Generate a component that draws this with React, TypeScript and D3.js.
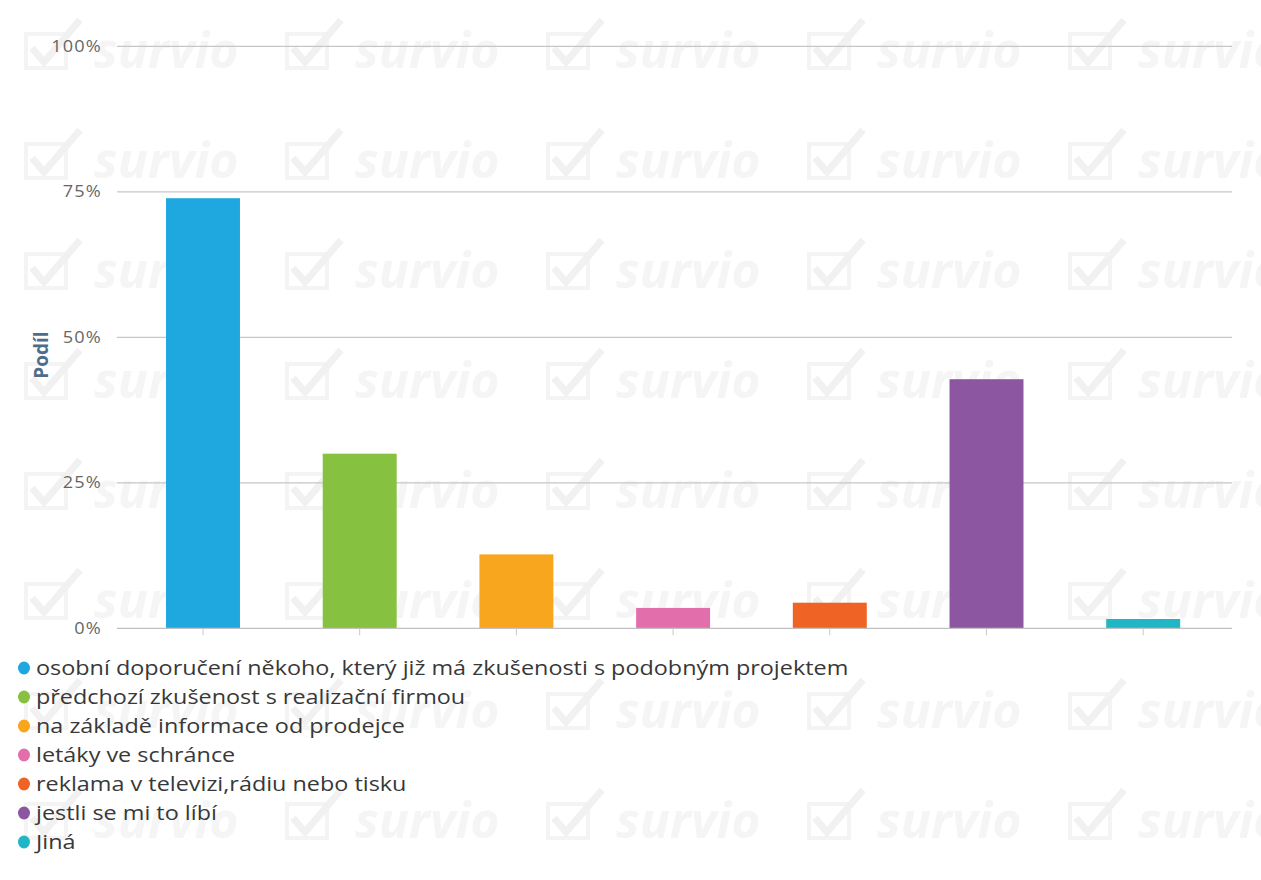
import React from "react";
import * as d3 from "d3";

const categories: string[] = [
  "osobní doporučení někoho, který již má zkušenosti s podobným projektem",
  "předchozí zkušenost s realizační firmou",
  "na základě informace od prodejce",
  "letáky ve schránce",
  "reklama v televizi,rádiu nebo tisku",
  "jestli se mi to líbí",
  "Jiná",
];
const values: number[] = [73.9, 30.0, 12.7, 3.5, 4.4, 42.8, 1.6];
const colors: string[] = ["#1fa8e0", "#86c140", "#f9a61f", "#e26fab", "#ef6424", "#8c56a1", "#21b6c6"];
const yTicks: number[] = [0, 25, 50, 75, 100];
const yTickLabels: string[] = ["0%", "25%", "50%", "75%", "100%"];
const yAxisTitle = "Podíl";

const W = 1261;
const H = 880;
const gridLeft = 117;
const gridRight = 1232;
const stretch = 1.17;

export default function App() {
  const x = d3
    .scaleBand<string>()
    .domain(categories)
    .range([124.65, 1221.55])
    .paddingInner(0.528)
    .paddingOuter(0.264);
  const y = d3.scaleLinear().domain([0, 100]).range([628.3, 46.3]);

  // watermark grid (decoration)
  const wmCols = d3.range(5).map((i) => 24 + i * 261);
  const wmRows = d3.range(8).map((j) => 22 + j * 110);

  return (
    <svg
      width={W}
      height={H}
      style={{ position: "absolute", left: 0, top: 0, background: "#fff" }}
      fontFamily="'Open Sans', sans-serif"
    >
      <rect width={W} height={H} fill="#ffffff" />
      {/* watermark */}
      <g>
        {wmRows.map((ry) =>
          wmCols.map((cx) => (
            <g key={`${cx}-${ry}`} transform={`translate(${cx},${ry})`}>
              <rect x={2} y={12} width={40} height={34} fill="none" stroke="#f4f4f4" strokeWidth={4} />
              <path d="M8,26 L20,40 L56,-2" fill="none" stroke="#f1f1f1" strokeWidth={7} />
              <text x={70} y={46} fontSize={50} fontStyle="italic" fontWeight={700} fill="#f5f5f5">
                survio
              </text>
            </g>
          ))
        )}
      </g>

      {/* gridlines */}
      {yTicks.map((t) =>
        t === 0 ? null : (
          <line key={t} x1={gridLeft} x2={gridRight} y1={y(t)} y2={y(t)} stroke="#c6c6c6" strokeWidth={1.3} />
        )
      )}

      {/* bars */}
      {categories.map((c, i) => (
        <rect
          key={c}
          x={x(c)}
          y={y(values[i])}
          width={x.bandwidth()}
          height={y(0) - y(values[i])}
          fill={colors[i]}
        />
      ))}

      {/* x axis */}
      <line x1={gridLeft} x2={gridRight} y1={y(0)} y2={y(0)} stroke="#c0c0c0" strokeWidth={1.3} />
      {categories.map((c) => (
        <line
          key={c}
          x1={(x(c) ?? 0) + x.bandwidth() / 2}
          x2={(x(c) ?? 0) + x.bandwidth() / 2}
          y1={y(0)}
          y2={y(0) + 7}
          stroke="#c8c8c8"
          strokeWidth={1}
        />
      ))}

      {/* y labels */}
      {yTicks.map((t, i) => (
        <text
          key={t}
          transform={`translate(102,${y(t) + 5.5}) scale(${stretch},1)`}
          textAnchor="end"
          fontSize={15.5}
          fill="#666666"
          letterSpacing={1}
        >
          {yTickLabels[i]}
        </text>
      ))}

      {/* y axis title */}
      <text
        transform={`translate(48,355) rotate(-90)`}
        textAnchor="middle"
        fontSize={19}
        fontWeight={700}
        fill="#4d6d8c"
      >
        {yAxisTitle}
      </text>

      {/* legend */}
      {categories.map((c, i) => (
        <g key={c} transform={`translate(0,${668 + i * 29})`}>
          <ellipse cx={24} cy={0} rx={6} ry={6.5} fill={colors[i]} />
          <text transform={`translate(36,7) scale(${stretch},1)`} fontSize={20} fill="#383838">
            {c}
          </text>
        </g>
      ))}
    </svg>
  );
}
